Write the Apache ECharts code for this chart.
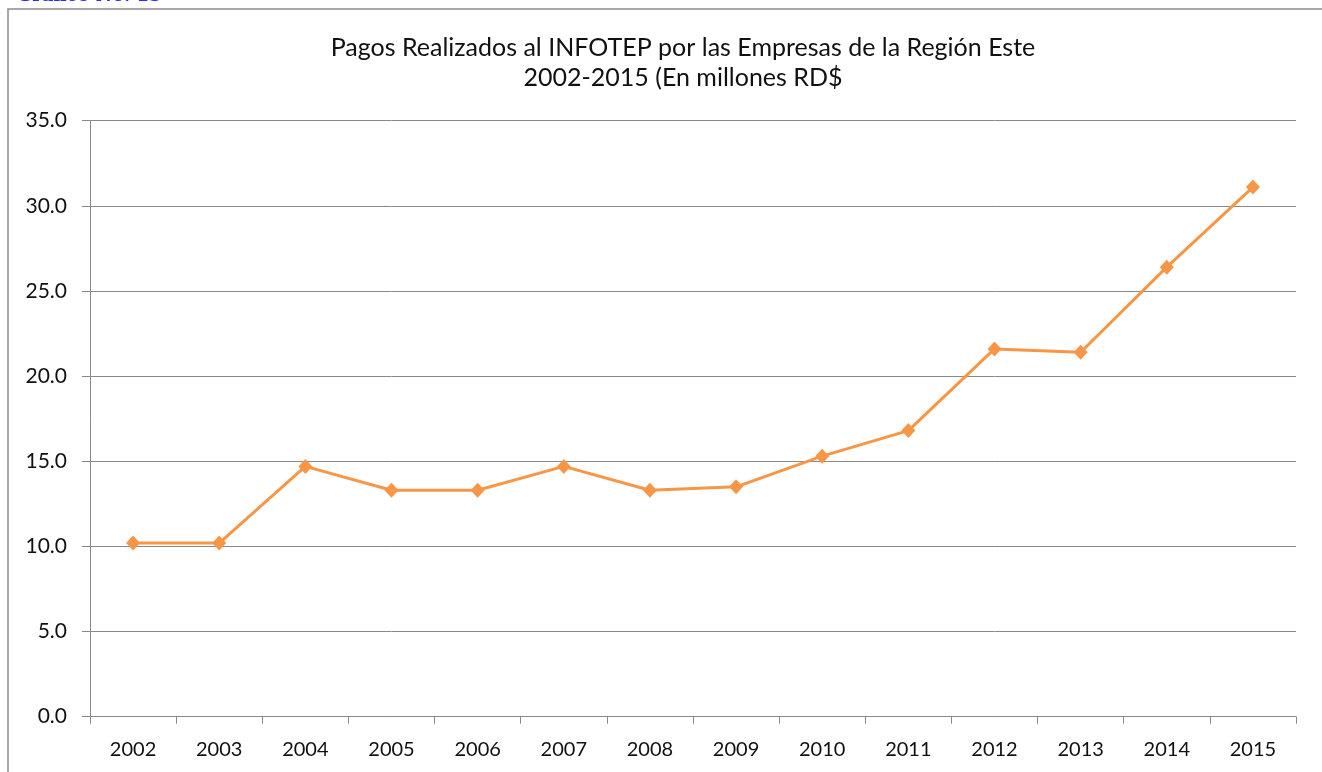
<!DOCTYPE html>
<html>
<head>
<meta charset="utf-8">
<script src="https://cdn.jsdelivr.net/npm/echarts@6/dist/echarts.min.js"></script>
<style>
    html, body { margin: 0; padding: 0; background: #fff; }
    #chart { width: 1322px; height: 772px; }
</style>
</head>
<body>
<div id="chart"></div>
<script>
    // datos del gráfico
    var years = ['2002','2003','2004','2005','2006','2007','2008','2009','2010','2011','2012','2013','2014','2015'];
    var pagos = [10.2, 10.2, 14.7, 13.3, 13.3, 14.7, 13.3, 13.5, 15.3, 16.8, 21.6, 21.4, 26.4, 31.1];
    var titleLines = ['Pagos Realizados al INFOTEP por las Empresas de la Región Este', '2002-2015 (En millones RD$'];

    var font = 'Lato, "Open Sans", sans-serif';
    var gris = '#898989';

    var myChart = echarts.init(document.getElementById('chart'));
    var options = {
        animation: false,
        title: {
            text: titleLines.join('\n'),
            left: 678,
            textAlign: 'center',
            top: 28,
            textStyle: {
                fontFamily: font,
                fontSize: 25,
                fontWeight: 'normal',
                color: '#111',
                lineHeight: 30
            }
        },
        grid: {
            left: 90,
            right: 26,
            top: 120.7,
            bottom: 55.3,
            containLabel: false
        },
        xAxis: {
            type: 'category',
            data: years,
            boundaryGap: true,
            axisLine: { lineStyle: { color: gris, width: 1 } },
            axisTick: { show: true, length: 7, lineStyle: { color: gris } },
            axisLabel: { margin: 23, fontFamily: font, fontSize: 20, color: '#111' }
        },
        yAxis: {
            type: 'value',
            min: 0,
            max: 35,
            interval: 5,
            axisLine: { show: true, lineStyle: { color: gris, width: 1 } },
            axisTick: { show: true, length: 8, lineStyle: { color: gris } },
            axisLabel: {
                margin: 23,
                fontFamily: font,
                fontSize: 21,
                color: '#111',
                formatter: function (v) { return v.toFixed(1); }
            },
            splitLine: { show: true, lineStyle: { color: gris, width: 1 } }
        },
        graphic: [
            // marco del gráfico
            {
                type: 'polyline',
                shape: { points: [[8, 772], [8, 9], [1322, 9]] },
                style: { stroke: '#8c8c8c', lineWidth: 1.5, fill: null }
            },
            {
                type: 'text',
                style: {
                    x: 17,
                    y: 5,
                    verticalAlign: 'bottom',
                    text: 'Gráfico No. 13',
                    font: 'bold 18px "DejaVu Serif", serif',
                    fill: '#2a2aff'
                }
            }
        ],
        series: [
            {
                name: 'Pagos',
                type: 'line',
                data: pagos,
                symbol: 'diamond',
                symbolSize: [14, 15],
                lineStyle: { color: '#F79646', width: 3 },
                itemStyle: { color: '#F79646' }
            }
        ]
    };
    myChart.setOption(options);
</script>
</body>
</html>
